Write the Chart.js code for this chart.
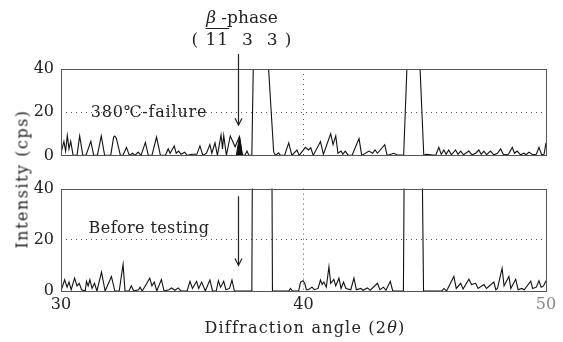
<!DOCTYPE html>
<html>
<head>
<meta charset="utf-8">
<script src="https://cdn.jsdelivr.net/npm/chart.js@4"></script>
<style>
  body { margin: 0; background: #fff; }
  #wrap { position: relative; width: 563px; height: 342px; overflow: hidden; font-family: "DejaVu Serif", serif; color: #222; }
  canvas { position: absolute; left: 0; }
  .lbl { position: absolute; white-space: nowrap; transform: translate(-50%, -50%); font-size: 16px; }
</style>
</head>
<body>
<div id="wrap">
  <canvas id="top" width="563" height="172" style="top:0"></canvas>
  <canvas id="bottom" width="563" height="170" style="top:172px"></canvas>
  <div class="lbl" style="left:242px;top:17px;font-size:17px"><i>β</i> -phase</div>
  <div class="lbl" style="left:242px;top:39px;font-size:17px;letter-spacing:1px">( <span style="text-decoration:overline">11</span>&nbsp; 3&nbsp; 3 )</div>
  <div class="lbl" style="left:149px;top:111px;letter-spacing:0.8px">380℃-failure</div>
  <div class="lbl" style="left:149px;top:227px;letter-spacing:0.4px">Before testing</div>
  <div class="lbl" style="left:22px;top:179px;transform:translate(-50%,-50%) rotate(-90deg);letter-spacing:1.5px">Intensity (cps)</div>
  <div class="lbl" style="left:305px;top:327px;letter-spacing:1.2px">Diffraction angle (2<i>θ</i>)</div>
</div>
<script>
// 380℃-failure pattern
const topAngle = [30.00, 30.12, 30.19, 30.26, 30.33, 30.40, 30.50, 30.66, 30.77, 30.90, 31.03, 31.23, 31.35, 31.50, 31.66, 31.80,
  32.05, 32.17, 32.22, 32.28, 32.45, 32.55, 32.70, 32.82, 32.95, 33.05, 33.18, 33.30, 33.48, 33.60, 33.75, 33.94, 34.10,
  34.30, 34.42, 34.50, 34.67, 34.75, 34.85, 34.95, 35.10, 35.20, 35.40, 35.60, 35.73, 35.85, 36.00, 36.14, 36.22, 36.35,
  36.45, 36.60, 36.66, 36.71, 36.82, 36.98, 37.18, 37.36, 37.48, 37.58, 37.67, 37.75, 37.87, 37.93, 38.20, 38.55, 38.77,
  38.85, 38.97, 39.05, 39.22, 39.39, 39.52, 39.73, 39.82, 40.08, 40.20, 40.30, 40.40, 40.70, 40.82, 41.12, 41.22, 41.33,
  41.42, 41.55, 41.62, 41.72, 41.85, 42.00, 42.29, 42.40, 42.70, 42.85, 42.95, 43.05, 43.35, 43.45, 43.72, 43.85, 44.13,
  44.27, 44.55, 44.80, 44.96, 45.05, 45.45, 45.58, 45.68, 45.79, 45.88, 45.99, 46.10, 46.27, 46.37, 46.48, 46.60, 46.82,
  46.95, 47.10, 47.23, 47.33, 47.44, 47.55, 47.71, 47.85, 48.00, 48.13, 48.25, 48.45, 48.61, 48.70, 48.81, 48.95, 49.09,
  49.18, 49.30, 49.45, 49.60, 49.71, 49.82, 49.92, 50.00];
const topCps = [1, 6.5, 2, 9.2, 3, 6.5, 0, 0, 9, 0, 0, 6.5, 0, 0, 9, 0,
  0, 8.5, 9, 8, 0, 0, 3.7, 0, 1, 0, 1.5, 0, 6, 0, 0, 8.5, 0,
  0, 3, 1, 4.4, 1, 2, 0.5, 1.5, 0, 0.5, 0.5, 4.4, 0, 1, 5, 1, 5.8,
  0, 9.5, 3, 9.2, 0, 9, 4, 8.8, 0, 0, 2, 0, 0, 42, 120, 42, 1.5,
  0, 1.2, 0, 0, 5.8, 0, 2.5, 0, 3.7, 2.5, 3.5, 0, 6.4, 0.5, 10, 5, 9,
  1, 2, 0.5, 2, 0, 0, 7.8, 0, 2, 1, 2.5, 1, 5, 0, 1, 0.3, 0,
  42, 120, 42, 0, 0.5, 0, 3.7, 0.5, 2.5, 0.5, 2.5, 0.3, 2.5, 0.5, 2, 0.3, 2,
  0.3, 1, 2.5, 0.5, 2, 0.3, 2, 0.3, 1, 3, 0.3, 0.5, 3.7, 1, 2, 0.3, 1,
  0.3, 1.5, 0.3, 0.5, 3.7, 0.3, 0.5, 5.8];
// filled beta-phase peak
const betaAngle = [37.23, 37.36, 37.48];
const betaCps = [0, 8.8, 0];

// Before testing pattern
const bottomAngle = [30.00, 30.15, 30.25, 30.33, 30.42, 30.56, 30.66, 30.75, 30.85, 31.00, 31.05, 31.12, 31.19, 31.28, 31.38, 31.48,
  31.67, 31.82, 32.08, 32.22, 32.40, 32.56, 32.64, 32.80, 32.90, 33.00, 33.20, 33.26, 33.35, 33.54, 33.66, 33.75, 33.85,
  33.95, 34.14, 34.25, 34.45, 34.56, 34.70, 34.83, 34.95, 35.20, 35.32, 35.42, 35.59, 35.68, 35.80, 35.95, 36.14, 36.25,
  36.40, 36.49, 36.58, 36.64, 36.71, 36.80, 36.95, 37.05, 37.15, 37.87, 37.89, 38.30, 38.70, 38.72, 38.80, 39.40, 39.46,
  39.55, 39.80, 39.88, 39.98, 40.05, 40.12, 40.20, 40.35, 40.45, 40.60, 40.70, 40.77, 40.84, 40.94, 41.05, 41.12, 41.25,
  41.33, 41.46, 41.55, 41.65, 41.75, 41.95, 42.08, 42.18, 42.36, 42.46, 42.63, 42.75, 43.05, 43.15, 43.30, 43.40, 43.58,
  43.68, 44.12, 44.15, 44.50, 44.90, 44.95, 45.05, 45.70, 45.79, 45.90, 46.20, 46.30, 46.48, 46.58, 46.82, 46.93, 47.10,
  47.20, 47.44, 47.55, 47.85, 47.93, 48.00, 48.19, 48.27, 48.47, 48.55, 48.75, 48.85, 49.00, 49.10, 49.37, 49.45, 49.60,
  49.71, 49.80, 49.90, 50.00];
const bottomCps = [0, 4.4, 1.5, 3.5, 0.5, 5, 2, 3, 0.5, 0, 3.8, 2, 4.4, 1, 3, 0,
  7.4, 0, 5.7, 0, 0, 10.4, 0, 0, 2, 0, 0.5, 1.5, 0, 3, 5, 2, 3.5,
  0, 4.5, 0, 0.5, 1.2, 0.3, 1.2, 0, 0, 3.8, 1, 3.8, 1, 3.5, 0, 4.3, 0,
  0, 4, 1.5, 2.5, 3.8, 0.5, 1, 4.3, 0, 0, 45, 150, 45, 0, 0, 0, 1,
  0, 0, 3.5, 4, 3, 0.5, 0.5, 1.5, 0.5, 1, 4.3, 2.5, 3.5, 1.5, 9.5, 3, 4.5,
  2, 5, 1, 3.5, 1, 0.5, 5, 0.5, 1, 0.3, 1.2, 0.3, 3, 0.5, 1.5, 0.3, 3.8,
  0, 0, 45, 150, 45, 0, 0, 0, 1, 0, 5.7, 1, 3, 0.8, 4.6, 2.5, 3,
  1, 2.5, 1, 3.5, 0.5, 1, 8.9, 2, 5.7, 1, 4.6, 0.5, 1, 0.5, 3.8, 1, 1.5,
  4, 1.5, 2, 4];

const xTicks = [30, 40, 50];
const yTicks = [0, 20, 40];

const pts = (xs, ys) => xs.map((x, i) => ({ x: x, y: ys[i] }));

// box round the plot area
const frame = {
  id: 'frame',
  afterDraw(chart) {
    const { ctx, chartArea: a } = chart;
    ctx.save();
    ctx.strokeStyle = '#555';
    ctx.lineWidth = 1;
    ctx.strokeRect(Math.round(a.left) + 0.5, Math.round(a.top) + 0.5, Math.round(a.right - a.left), Math.round(a.bottom - a.top));
    ctx.restore();
  }
};

// downward arrow marking the beta-phase position
const arrow = {
  id: 'arrow',
  afterDraw(chart, args, o) {
    const { ctx } = chart;
    const x = Math.round(chart.scales.x.getPixelForValue(o.at)) + 0.5;
    const y1 = chart.scales.y.getPixelForValue(o.from);
    const y2 = chart.scales.y.getPixelForValue(o.to);
    ctx.save();
    ctx.strokeStyle = '#222';
    ctx.lineWidth = 1.2;
    ctx.beginPath();
    ctx.moveTo(x, y1);
    ctx.lineTo(x, y2);
    ctx.moveTo(x - 3.5, y2 - 7);
    ctx.lineTo(x, y2);
    ctx.lineTo(x + 3.5, y2 - 7);
    ctx.stroke();
    ctx.restore();
  }
};

const font = { family: '"DejaVu Serif", serif', size: 16 };

function makeOptions(showX, padTop, xHeight, arrowOpts) {
  return {
    responsive: false,
    animation: false,
    layout: { padding: { left: 0, right: 17, top: padTop, bottom: 0 } },
    plugins: { legend: { display: false }, tooltip: { enabled: false }, arrow: arrowOpts },
    elements: { point: { radius: 0 }, line: { tension: 0 } },
    scales: {
      x: {
        type: 'linear', min: 30, max: 50,
        afterBuildTicks: s => { s.ticks = xTicks.map(v => ({ value: v })); },
        afterFit: s => { s.height = xHeight; },
        grid: { drawTicks: false, lineWidth: 1, color: c => c.tick && c.tick.value === 40 ? '#555' : 'transparent' },
        border: { display: false, dash: [1, 4] },
        ticks: {
          display: showX, padding: 4, font: font,
          color: c => c.tick && c.tick.value === 50 ? '#888' : '#222'
        }
      },
      y: {
        min: 0, max: 40,
        afterBuildTicks: s => { s.ticks = yTicks.map(v => ({ value: v })); },
        afterFit: s => { s.width = 61; },
        grid: { drawTicks: false, lineWidth: 1, color: c => c.tick && c.tick.value === 20 ? '#555' : 'transparent' },
        border: { display: false, dash: [1, 4] },
        ticks: { padding: 7, font: font, color: '#222' }
      }
    }
  };
}

new Chart(document.getElementById('top'), {
  type: 'line',
  data: {
    datasets: [
      { data: pts(topAngle, topCps), borderColor: '#111', borderWidth: 1.1, fill: false },
      { data: pts(betaAngle, betaCps), borderColor: '#111', borderWidth: 1, backgroundColor: '#111', fill: 'origin' }
    ]
  },
  options: makeOptions(false, 69, 7, { at: 37.3, from: 47, to: 14 }),
  plugins: [frame, arrow]
});

new Chart(document.getElementById('bottom'), {
  type: 'line',
  data: {
    datasets: [
      { data: pts(bottomAngle, bottomCps), borderColor: '#111', borderWidth: 1.1, fill: false }
    ]
  },
  options: makeOptions(true, 14, 51, { at: 37.3, from: 37, to: 10 }),
  plugins: [frame, arrow]
});
</script>
</body>
</html>
